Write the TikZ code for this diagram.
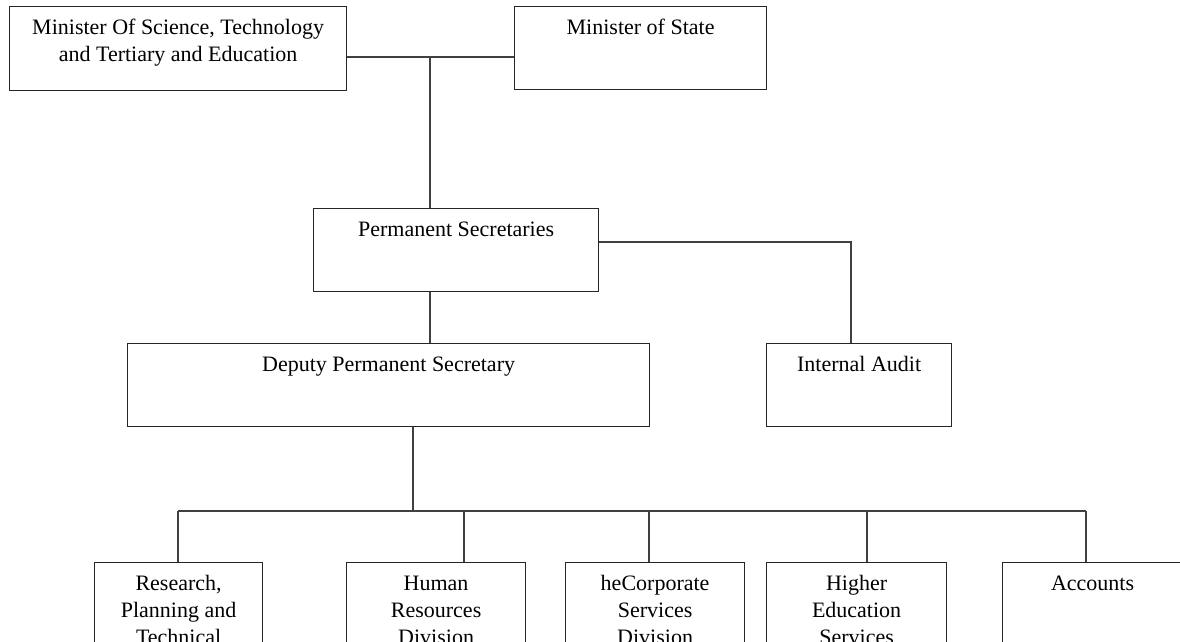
\documentclass[tikz,border=0pt]{standalone}
\usepackage{fontspec}
\setmainfont{Liberation Serif}
\usetikzlibrary{calc}
\tikzset{
  orgbox/.style={draw=black!85, line width=1.2pt, rectangle, inner sep=0pt, anchor=north west, fill=white},
  orgtxt/.style={inner sep=0pt, anchor=north, align=center, font=\fontsize{22}{26.8}\selectfont},
  conn/.style={draw=black!75, line width=1.2pt}
}
\newcommand\orgbox[6]{%
  \node[orgbox, minimum width=#4pt, minimum height=#5pt] (#1) at (#2,#3) {};
  \node[orgtxt] (#1-t) at ($(#1.north)+(0,9.6)$) {\strut #6};
}
\begin{document}
\begin{tikzpicture}[x=1pt,y=-1pt]
\useasboundingbox (0,0) rectangle (1180,642);
\fill[white] (0,0) rectangle (1180,642);
\clip (0,0) rectangle (1180,642);

\orgbox{msci}{9}{6}{337}{84}{Minister Of Science, Technology\\and Tertiary and Education}
\orgbox{mstate}{514}{6}{252}{83}{Minister of State}
\orgbox{psec}{313}{208}{285}{83}{Permanent Secretaries}
\orgbox{dpsec}{127}{343}{522}{83}{Deputy Permanent Secretary}
\orgbox{audit}{766}{343}{185}{83}{Internal Audit}
\orgbox{rpt}{94}{562}{168}{140}{Research,\\Planning and\\Technical}
\orgbox{hrd}{346}{562}{179}{140}{Human\\Resources\\Division}
\orgbox{csd}{565}{562}{179}{140}{heCorporate\\Services\\Division}
\orgbox{hes}{766}{562}{180}{140}{Higher\\Education\\Services}
\orgbox{acc}{1002}{562}{180}{140}{Accounts}

\coordinate (jtop) at (430,57);
\coordinate (jaud) at (851,242);
\coordinate (jdep) at (413,511);
\coordinate (b1) at (178,511);
\coordinate (b2) at (464,511);
\coordinate (b3) at (649,511);
\coordinate (b4) at (867,511);
\coordinate (b5) at (1086,511);

\draw[conn] (msci.east |- jtop) -- (mstate.west |- jtop);
\draw[conn] (jtop) -- (jtop |- psec.north);
\draw[conn] (jtop |- psec.south) -- (jtop |- dpsec.north);
\draw[conn] (psec.east |- jaud) -- (jaud) -- (jaud |- audit.north);
\draw[conn] (jdep |- dpsec.south) -- (jdep);
\draw[conn] (b1) -- (b5);
\draw[conn] (b1) -- (b1 |- rpt.north);
\draw[conn] (b2) -- (b2 |- hrd.north);
\draw[conn] (b3) -- (b3 |- csd.north);
\draw[conn] (b4) -- (b4 |- hes.north);
\draw[conn] (b5) -- (b5 |- acc.north);
\end{tikzpicture}
\end{document}
